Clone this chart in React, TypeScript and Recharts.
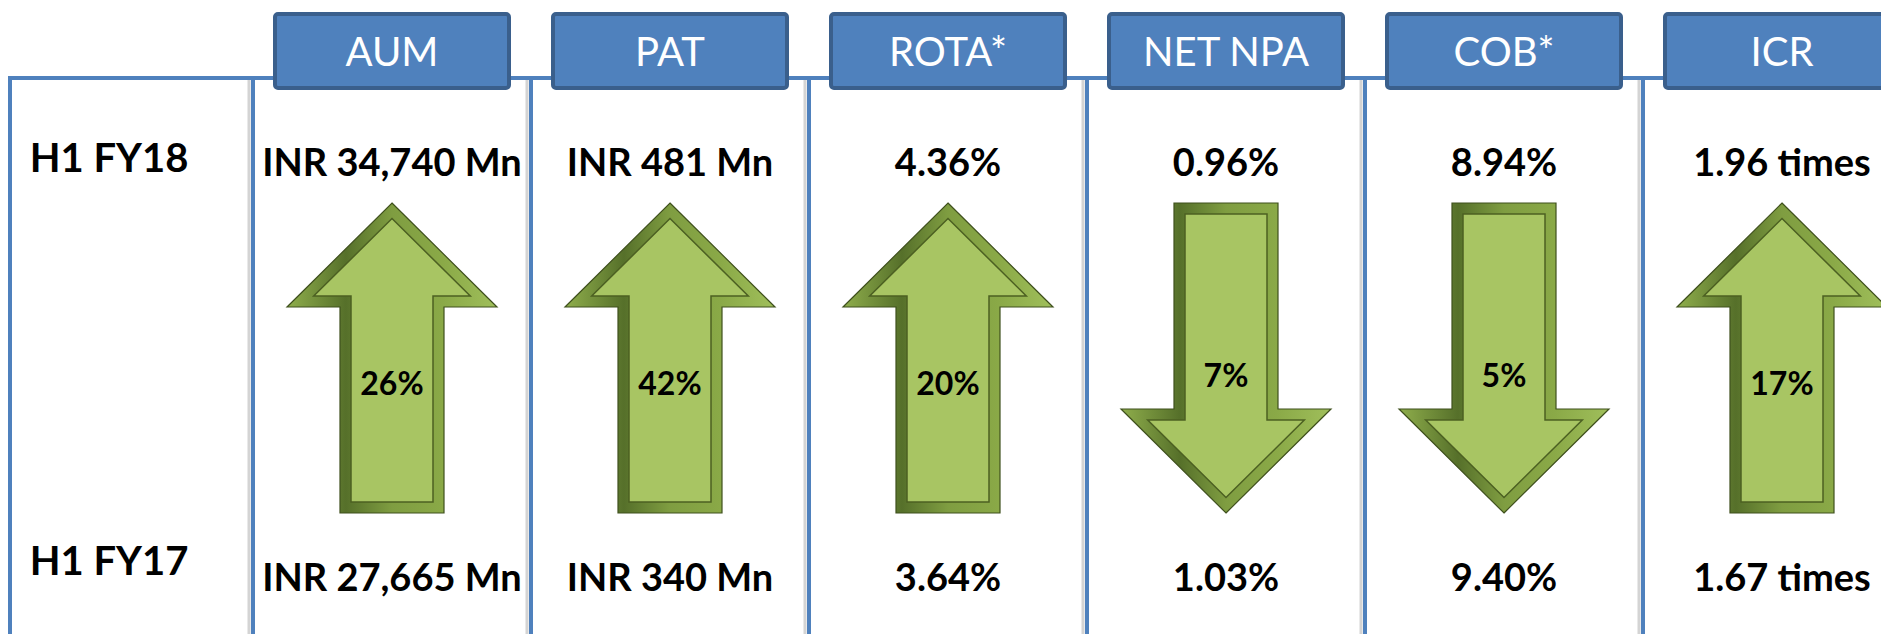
import React from 'react';
import { BarChart, Bar, XAxis, YAxis } from 'recharts';

// H1 FY18 vs H1 FY17 key metrics
const metrics = ['AUM', 'PAT', 'ROTA*', 'NET NPA', 'COB*', 'ICR'];
const periods = ['H1 FY18', 'H1 FY17'];
const fy18Values = [34740, 481, 4.36, 0.96, 8.94, 1.96];
const fy17Values = [27665, 340, 3.64, 1.03, 9.4, 1.67];
const units = ['mn', 'mn', 'pct', 'pct', 'pct', 'times'];
const changePct = [26, 42, 20, 7, 5, 17];
const direction = ['up', 'up', 'up', 'down', 'down', 'up'];

const CHART_W = 1921;
const CHART_H = 634;
const Y_W = 253;
const BAND = (CHART_W - Y_W) / metrics.length;
const FONT = 'Lato, "Open Sans", sans-serif';
const BLUE = '#4f81bd';

const formatValue = (v: number, unit: string) => {
    if (unit === 'mn') return `INR ${v.toLocaleString('en-US')} Mn`;
    if (unit === 'pct') return `${v.toFixed(2)}%`;
    return `${v.toFixed(2)} times`;
};

// span runs from the H1 FY17 row (0) to the H1 FY18 row (1)
const data = metrics.map((m, i) => ({
    metric: m,
    fy18: fy18Values[i],
    fy17: fy17Values[i],
    unit: units[i],
    change: changePct[i],
    dir: direction[i],
    span: [0, 1],
}));

type Pt = [number, number];

// offset polygon edges inward by d
const inset = (pts: Pt[], d: number): Pt[] => {
    const n = pts.length;
    let area = 0;
    for (let i = 0; i < n; i++) {
        const [x1, y1] = pts[i];
        const [x2, y2] = pts[(i + 1) % n];
        area += x1 * y2 - x2 * y1;
    }
    const s = area > 0 ? 1 : -1;
    const lines = pts.map((p, i) => {
        const q = pts[(i + 1) % n];
        const dx = q[0] - p[0];
        const dy = q[1] - p[1];
        const len = Math.hypot(dx, dy);
        const nx = (-dy / len) * s;
        const ny = (dx / len) * s;
        return { px: p[0] + nx * d, py: p[1] + ny * d, ux: dx / len, uy: dy / len };
    });
    return pts.map((_, i) => {
        const a = lines[(i - 1 + n) % n];
        const b = lines[i];
        const cr = a.ux * b.uy - a.uy * b.ux;
        const t = ((b.px - a.px) * b.uy - (b.py - a.py) * b.ux) / cr;
        return [a.px + a.ux * t, a.py + a.uy * t] as Pt;
    });
};

const toPath = (pts: Pt[]) => pts.map((p, i) => `${i ? 'L' : 'M'}${p[0].toFixed(1)},${p[1].toFixed(1)}`).join(' ') + ' Z';

const ArrowShape = (props: any) => {
    const { x, y, width, height, payload } = props;
    const cx = x + width / 2;
    const top = y + 41;
    const bottom = y + height - 67;
    const hw = width / 2;
    const sw = 52;
    const hh = 104;
    let pts: Pt[] = [
        [cx, top],
        [cx + hw, top + hh],
        [cx + sw, top + hh],
        [cx + sw, bottom],
        [cx - sw, bottom],
        [cx - sw, top + hh],
        [cx - hw, top + hh],
    ];
    const up = payload.dir === 'up';
    if (!up) pts = pts.map((p) => [p[0], top + bottom - p[1]] as Pt);
    const inner = inset(pts, 11);
    return (
        <g>
            <path d={toPath(pts)} fill="url(#bevel)" stroke="#3f501d" strokeWidth={1.2} />
            <path d={toPath(inner)} fill="#a8c563" stroke="#4c6022" strokeWidth={1.5} />
            <text x={cx} y={up ? top + 192 : top + 184} textAnchor="middle" fontFamily={FONT} fontWeight={700} fontSize={32} fill="#000">
                {payload.change}%
            </text>
            <text x={cx} y={y + 14} textAnchor="middle" fontFamily={FONT} fontWeight={700} fontSize={38} fill="#000">
                {formatValue(payload.fy18, payload.unit)}
            </text>
            <text x={cx} y={y + height + 11} textAnchor="middle" fontFamily={FONT} fontWeight={700} fontSize={38} fill="#000">
                {formatValue(payload.fy17, payload.unit)}
            </text>
        </g>
    );
};

const HeaderTick = (props: any) => {
    const { x, y, payload, index } = props;
    const left = x - BAND / 2;
    const frameTop = y - 84;
    const frameBottom = y + 490;
    return (
        <g>
            {index === 0 && (
                <g>
                    <line x1={left - 243} y1={frameTop} x2={left + BAND * metrics.length} y2={frameTop} stroke={BLUE} strokeWidth={4} />
                    <line x1={left - 243} y1={frameTop - 2} x2={left - 243} y2={frameBottom} stroke={BLUE} strokeWidth={4} />
                </g>
            )}
            <line x1={left - 4} y1={frameTop + 2} x2={left - 4} y2={frameBottom} stroke="#d4d4d4" strokeWidth={3} />
            <line x1={left} y1={frameTop} x2={left} y2={frameBottom} stroke={BLUE} strokeWidth={4} />
            <rect x={x - 117} y={y - 148} width={234} height={74} rx={3} fill={BLUE} stroke="#3a5f8c" strokeWidth={4} />
            <text x={x} y={y - 96} textAnchor="middle" fontFamily={FONT} fontSize={40} fill="#fff">
                {payload.value}
            </text>
        </g>
    );
};

const PeriodTick = (props: any) => {
    const { x, y, payload } = props;
    const label = payload.value === 1 ? periods[0] : periods[1];
    const dy = payload.value === 1 ? 10 : -5;
    return (
        <text x={x - 144} y={y + dy} textAnchor="middle" fontFamily={FONT} fontWeight={700} fontSize={40} fill="#000">
            {label}
        </text>
    );
};

export default function App() {
    return (
        <div style={{ position: 'fixed', left: 0, top: 0, width: 1881, height: 634, overflow: 'hidden', background: '#fff' }}>
            <BarChart width={CHART_W} height={CHART_H} data={data} margin={{ top: 0, right: 0, bottom: 54, left: 0 }}>
                <defs>
                    <linearGradient id="bevel" x1="0" y1="0" x2="1" y2="0">
                        <stop offset="0%" stopColor="#8fae4c" />
                        <stop offset="28%" stopColor="#56702a" />
                        <stop offset="50%" stopColor="#7f9d41" />
                        <stop offset="74%" stopColor="#8aa947" />
                        <stop offset="100%" stopColor="#a0bf5b" />
                    </linearGradient>
                </defs>
                <XAxis
                    dataKey="metric"
                    orientation="top"
                    height={162}
                    axisLine={false}
                    tickLine={false}
                    tickSize={0}
                    tickMargin={0}
                    interval={0}
                    tick={<HeaderTick />}
                />
                <YAxis
                    type="number"
                    domain={[0, 1]}
                    ticks={[0, 1]}
                    width={Y_W}
                    axisLine={false}
                    tickLine={false}
                    tickSize={0}
                    tickMargin={0}
                    tick={<PeriodTick />}
                />
                <Bar dataKey="span" barSize={210} shape={<ArrowShape />} isAnimationActive={false} />
            </BarChart>
        </div>
    );
}
